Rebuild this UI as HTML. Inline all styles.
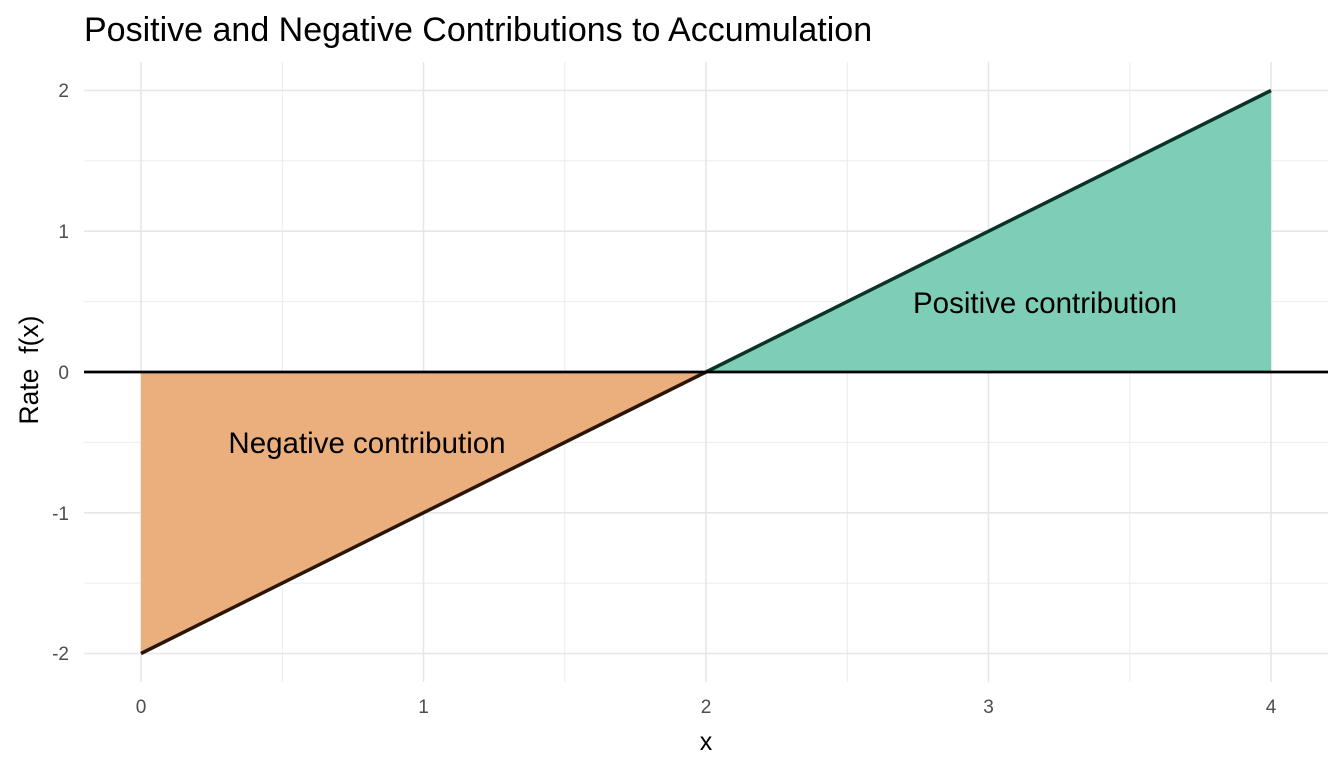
<!DOCTYPE html>
<html><head><meta charset="utf-8"><style>body{margin:0;background:#fff}svg{display:block}text{font-family:"Liberation Sans",Arial,sans-serif}</style></head><body>
<svg width="1344" height="768" xmlns="http://www.w3.org/2000/svg">
<rect width="1344" height="768" fill="#fff"/>
<g stroke="#ebebeb" stroke-width="1">
<line x1="84" x2="1328" y1="160.9" y2="160.9"/><line x1="84" x2="1328" y1="301.6" y2="301.6"/><line x1="84" x2="1328" y1="442.4" y2="442.4"/><line x1="84" x2="1328" y1="583.1" y2="583.1"/>
<line y1="62" y2="682" x1="282.3" x2="282.3"/><line y1="62" y2="682" x1="564.8" x2="564.8"/><line y1="62" y2="682" x1="847.3" x2="847.3"/><line y1="62" y2="682" x1="1129.8" x2="1129.8"/>
</g>
<g stroke="#e6e6e6" stroke-width="1.6">
<line x1="84" x2="1328" y1="90.5" y2="90.5"/><line x1="84" x2="1328" y1="231.2" y2="231.2"/><line x1="84" x2="1328" y1="512.8" y2="512.8"/><line x1="84" x2="1328" y1="653.5" y2="653.5"/>
<line y1="62" y2="682" x1="141" x2="141"/><line y1="62" y2="682" x1="423.5" x2="423.5"/><line y1="62" y2="682" x1="706" x2="706"/><line y1="62" y2="682" x1="988.5" x2="988.5"/><line y1="62" y2="682" x1="1271" x2="1271"/>
</g>
<polygon points="141,372 706,372 141,653.5" fill="#EBAF7E"/>
<polygon points="706,372 1271,372 1271,90.5" fill="#7ECDB7"/>
<line x1="141" y1="653.5" x2="706" y2="372" stroke="#2a1506" stroke-width="3.5"/>
<line x1="706" y1="372" x2="1271" y2="90.5" stroke="#0c3328" stroke-width="3.5"/>
<line x1="84" x2="1328" y1="372" y2="372" stroke="#000" stroke-width="2.8"/>
<text x="367" y="453" font-size="29.5" text-anchor="middle">Negative contribution</text>
<text x="1045" y="313" font-size="29.5" text-anchor="middle">Positive contribution</text>
<g font-size="19" fill="#4d4d4d" text-anchor="end">
<text x="69" y="97">2</text><text x="69" y="238">1</text><text x="69" y="379">0</text><text x="69" y="520">-1</text><text x="69" y="660">-2</text>
</g>
<g font-size="19" fill="#4d4d4d" text-anchor="middle">
<text x="141" y="713">0</text><text x="423.5" y="713">1</text><text x="706" y="713">2</text><text x="988.5" y="713">3</text><text x="1271" y="713">4</text>
</g>
<text x="706" y="750" font-size="25" text-anchor="middle">x</text>
<text transform="translate(38,370) rotate(-90)" font-size="26.5" text-anchor="middle" xml:space="preserve" style="white-space:pre">Rate  f(x)</text>
<text x="84" y="41" font-size="34">Positive and Negative Contributions to Accumulation</text>
</svg>
</body></html>
